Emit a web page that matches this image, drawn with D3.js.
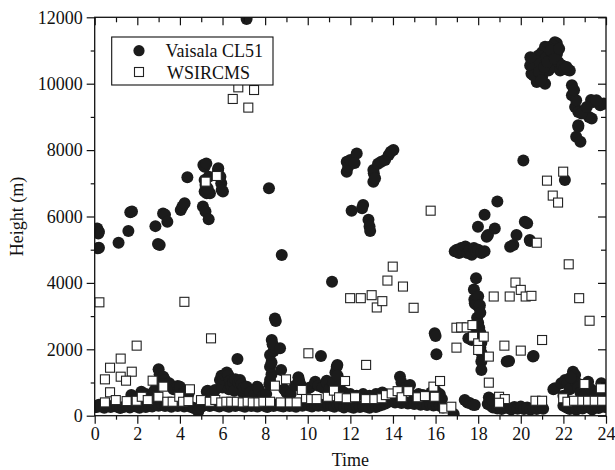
<!DOCTYPE html>
<html>
<head>
<meta charset="utf-8">
<script src="https://cdn.jsdelivr.net/npm/d3@7"></script>
<style>
  body { margin: 0; background: #fff; }
  text { font-family: "Liberation Serif", "Times New Roman", serif; fill: #111; }
</style>
</head>
<body>
<div id="chart-area"></div>
<script>
// tick values
var xMajor = [0, 2, 4, 6, 8, 10, 12, 14, 16, 18, 20, 22, 24];
var xMinor = [1, 3, 5, 7, 9, 11, 13, 15, 17, 19, 21, 23];
var yMajor = [0, 2000, 4000, 6000, 8000, 10000, 12000];
var yMinor = [1000, 3000, 5000, 7000, 9000, 11000];

// Vaisala CL51 [time, height]
var cl51Low = [
  [0.0,300],[0.1,260],[0.2,330],[0.3,280],[0.45,240],[0.6,300],[0.75,260],[0.9,320],[1.05,270],[1.2,230],
  [1.35,260],[1.5,300],[1.65,250],[1.8,330],[1.95,280],[2.1,240],[2.25,300],[2.4,260],[2.55,310],[2.7,280],
  [2.85,340],[3.0,300],[3.15,360],[3.3,290],[3.45,320],[3.6,270],[3.75,330],[3.9,290],[4.05,350],[4.2,280],
  [4.35,310],[4.5,270],[4.65,230],[4.86,130],[4.95,240],[5.1,300],[5.25,330],[5.4,290],[5.55,350],[5.7,310],
  [5.85,280],[6.0,340],[6.15,300],[6.3,270],[6.45,320],[6.6,290],[6.75,340],[6.9,300],[7.05,270],[7.2,330],
  [7.35,290],[7.5,310],[7.65,280],[7.8,330],[7.95,300],[8.1,260],[8.25,320],[8.4,290],[8.55,340],[8.7,300],
  [8.85,280],[9.0,330],[9.15,290],[9.3,310],[9.45,270],[9.6,330],[9.75,300],[9.9,350],[10.05,310],[10.2,280],
  [10.35,340],[10.5,300],[10.65,330],[10.8,290],[10.95,340],[11.1,300],[11.25,270],[11.4,320],[11.55,290],[11.7,250],
  [11.85,300],[12.0,270],[12.15,240],[12.3,290],[12.45,260],[12.6,300],[12.75,270],[12.9,240],[13.05,290],[13.2,260],
  [13.35,300],[13.5,330],[13.65,370],[13.8,420],[13.95,450],[14.1,400],[14.25,440],[14.4,380],[14.55,420],[14.7,370],
  [14.85,400],[15.0,350],[15.15,380],[15.3,330],[15.45,360],[15.6,320],[15.75,350],[15.9,310],[16.05,340],[16.2,300],
  [16.35,250],[16.85,50],
  [17.37,470],[17.5,400],[17.6,380],[17.75,330],[17.84,320],
  [18.45,350],[18.55,420],[18.6,300],[18.7,250],[18.8,350],[18.9,220],[19.0,300],[19.1,200],[19.25,280],[19.4,230],
  [19.55,190],[19.7,260],[19.85,210],[20.0,280],[20.15,200],[20.3,250],[20.45,180],[20.6,240],[20.75,200],[20.9,260],
  [21.05,210],[18.5,550],[18.65,480],
  [22.0,300],[22.15,250],[22.3,200],[22.45,300],[22.6,180],[22.75,260],[22.9,220],[23.05,300],[23.2,250],[23.35,190],
  [23.5,280],[23.65,230],[23.8,300],[23.95,260]
];
var cl51Mid = [
  [1.72,620],[2.19,720],[2.4,650],[2.6,600],[2.8,750],[2.9,900],[3.0,1400],[3.05,1250],[3.1,1100],[3.22,1175],
  [3.3,1075],[3.2,950],[3.5,975],[3.6,900],[3.7,800],[3.9,895],[4.0,875],[4.2,700],[4.4,650],
  [5.26,725],[5.3,750],[5.5,650],[5.65,775],[5.88,1075],[5.95,1200],[6.0,850],[6.05,1100],[6.1,1225],[6.2,1300],
  [6.27,1225],[6.3,800],[6.35,1050],[6.4,900],[6.5,1000],[6.55,750],[6.6,1100],[6.7,1710],[6.75,1000],[6.82,1075],
  [6.9,950],[6.95,700],[7.0,850],[7.14,875],[7.3,700],[7.5,650],[7.63,875],[7.7,800],[7.9,600],[8.05,650],
  [8.2,950],[8.23,1075],[8.3,1250],[8.23,1475],[8.3,1600],[8.23,1830],[8.4,1950],[8.45,2050],[8.31,2280],[8.35,2150],
  [8.46,2930],[8.5,2850],[8.7,2030],[8.75,1375],
  [8.9,800],[9.0,700],[9.2,650],[9.4,900],[9.56,1160],[9.6,1050],[9.7,900],[9.9,800],[10.1,850],[10.34,975],
  [10.35,1025],[10.5,900],[10.62,1800],[10.7,850],[10.89,1055],[10.9,975],[11.0,800],[11.2,1000],[11.3,1300],[11.36,1475],
  [11.39,1530],[11.4,1200],[11.5,900],[11.7,700],[12.0,650],[12.3,600],[12.6,650],[12.9,600],[13.2,650],[13.5,700],
  [14.2,650],[14.33,1175],[14.4,1000],[14.5,750],[14.6,850],[14.8,925],[15.0,600],[15.2,650],[15.4,620],[15.6,580],
  [15.8,700],[16.0,750],[16.2,650],[16.3,500],
  [15.96,2480],[16.0,2400],[16.04,1850],
  [17.54,2330],[17.7,2280],[17.75,2600],[17.8,3800],[17.82,3500],[17.84,3385],[17.9,3350],[17.9,4140],[17.95,2950],[18.0,2800],
  [18.0,3600],[18.05,3250],[18.05,2650],[18.08,3330],[18.1,3100],[18.1,2500],[18.1,2050],[18.15,2200],[18.15,1900],[18.2,1750],
  [18.15,1630],[18.15,1380],
  [19.34,1630],[19.45,1650],[20.57,1780],[20.6,1800],[21.53,795],[21.6,825],
  [21.9,975],[22.0,600],[22.08,1075],[22.2,1000],[22.3,800],[22.45,1325],[22.55,1225],[22.6,1000],[22.7,850],[22.8,700],
  [23.0,600],[23.16,1025],[23.3,800],[23.5,700],[23.78,975],[23.9,800],[22.35,1150],[23.6,650],[23.95,700]
];
var cl51High = [
  [0.12,5640],[0.2,5540],[0.17,5490],[0.2,5060],[0.15,5040],[1.12,5210],[1.58,5560],[1.67,6125],[1.75,6150],
  [2.85,5710],[2.97,5170],[3.05,5140],[3.21,6090],[3.3,6050],[3.41,5840],[4.04,6195],[4.12,6300],[4.22,6400],[4.35,7180],
  [5.08,6300],[5.2,6150],[5.35,5915],[5.1,7550],[5.16,7500],[5.24,7600],[5.16,7100],[5.16,6750],[5.26,6700],[5.41,6700],
  [5.2,6950],[5.3,6850],[5.35,7200],[5.8,7450],[5.79,7400],[5.94,7000],[6.02,6750],[5.96,6800],[5.9,7200],
  [7.13,11950],[8.18,6850],[8.78,4840],
  [11.14,4036],[11.83,7650],[11.83,7350],[11.9,7500],[12.0,7700],[12.3,7900],[12.2,7610],[12.06,6175],[12.6,6350],[12.55,6250],
  [12.85,5900],[12.9,5700],[12.93,5560],[13.08,7400],[13.1,7300],[13.08,7050],[13.16,7150],[13.3,7590],[13.45,7650],[13.63,7700],
  [13.8,7850],[14.02,8000],[13.9,7950],
  [16.9,4950],[17.0,5000],[17.1,4900],[17.2,5050],[17.3,4950],[17.4,5100],[17.5,4900],[17.6,5000],[17.7,4850],[17.8,5050],
  [17.9,4950],[18.0,5000],[18.15,4900],[18.3,4950],
  [18.9,6450],[18.3,6050],[17.99,5690],[18.78,5640],[18.46,5440],[18.4,5390],[20.19,5840],[20.3,5800],[19.8,5440],[19.65,5140],
  [19.5,5090],[20.42,5290],[20.44,5260],[20.12,7690],[22.07,7100],
  [21.69,11220],[21.6,11250],[21.5,11150],[21.3,11100],[21.14,11110],[21.0,10950],[20.83,10850],[20.7,10700],[20.44,10550],[20.5,10300],
  [20.6,10500],[20.9,10600],[21.2,10800],[21.4,10700],[21.5,10900],[20.75,10050],[21.14,10000],[21.0,10200],[21.3,10400],[21.5,10500],
  [21.77,10650],[21.85,10400],[21.7,10900],[22.23,10410],[22.3,10400],[22.4,9950],[22.4,9650],[22.55,9300],[22.7,9150],[23.0,9200],
  [23.3,9510],[23.4,9450],[23.7,9410],[23.73,9350],[23.9,9400],[23.2,9000],[23.33,8950],[22.7,8750],[22.6,8400],[22.8,8250],
  [22.7,8700],[22.6,9500],
  [20.45,10800],[20.6,10250],[20.85,10350],[20.95,10100],[21.1,10500],[21.25,10650],[21.4,11000],[21.6,10750],[21.8,11050],[21.95,10550],
  [22.05,10450],[22.15,10500],[22.85,9100],[23.1,9300],[23.55,9500],[22.5,9800]
];

// WSIRCMS [time, height]
var wsPoints = [
  [6.48,9540],[6.74,9890],[7.21,9280],[7.48,9810],[5.21,7050],[5.73,7220],[0.22,3415],[4.21,3430],[5.46,2330],[1.97,2110],
  [1.22,1720],[0.72,1445],[1.74,1325],[0.48,1095],[1.22,1175],[1.47,1055],[2.72,1055],[0.72,705],[3.22,875],[4.47,795],
  [0.48,400],[0.99,470],[1.5,440],[1.97,450],[2.21,570],[2.49,470],[2.99,570],[3.41,420],[3.66,420],[3.97,570],
  [4.15,420],[4.4,440],[4.99,470],[5.4,420],[5.66,475],[5.94,400],[6.18,420],[6.41,420],[6.67,420],[6.95,400],
  [7.18,420],[7.42,400],[7.69,400],[7.92,420],[8.23,420],[8.73,400],[9.17,400],[9.48,400],[9.92,525],[8.46,905],
  [8.98,1095],[9.72,775],[10.03,1880],
  [10.16,500],[10.42,500],[10.94,570],[11.23,755],[11.47,555],[11.75,1045],[11.83,525],[12.22,555],[12.72,500],[12.74,1530],
  [13.13,500],[13.47,525],[13.67,620],[13.94,670],[14.22,740],[14.41,555],[14.72,740],[15.16,555],[15.5,590],[15.9,875],
  [15.96,570],[16.21,1045],[16.4,220],[16.74,270],
  [11.99,3540],[12.49,3540],[13.0,3630],[13.24,3260],[13.5,3450],[13.74,4070],[13.99,4490],[14.47,3890],[14.97,3250],[15.77,6175],
  [16.98,2650],[17.2,2660],[17.46,2660],[17.73,2730],[17.76,2380],[18.0,2180],[18.26,2380],[18.0,1980],[18.5,1780],[16.98,2050],
  [18.5,995],[18.98,570],[19.25,500],[18.98,390],
  [18.73,3590],[19.48,3590],[19.75,4010],[20.0,3790],[20.23,3590],[20.5,3610],[20.75,5210],[19.23,2110],[20.0,1960],[21.0,2280],
  [21.23,7080],[21.5,6630],[21.75,6420],[21.99,7350],[22.25,4560],[22.74,3540],[23.23,2860],[20.69,450],[21.0,450],[21.99,525],
  [22.19,420],[22.5,450],[22.89,450],[23.16,450],[23.47,450],[23.82,450],[22.99,955],[23.76,825]
];

var legendNames = ["Vaisala CL51", "WSIRCMS"];

var W = 615, H = 470;
var plotL = 94.7, plotR = 606, plotT = 17.3, plotB = 415.7;

var svg = d3.select("#chart-area").append("svg")
            .attr("width", W)
            .attr("height", H);

var x = d3.scaleLinear().domain([0, 24]).range([plotL, plotR]);
var y = d3.scaleLinear().domain([0, 12000]).range([plotB, plotT]);

svg.append("clipPath").attr("id", "plot-clip")
   .append("rect")
     .attr("x", plotL).attr("y", plotT)
     .attr("width", plotR - plotL).attr("height", plotB - plotT);

var pts = svg.append("g").attr("clip-path", "url(#plot-clip)");
var cl51 = cl51Low.concat(cl51Mid, cl51High);

pts.selectAll("circle")
   .data(cl51)
   .enter()
   .append("circle")
     .attr("cx", (d) => x(d[0]))
     .attr("cy", (d) => y(d[1]))
     .attr("r", 6)
     .attr("fill", "#1b1b1b");

var s = 9;
pts.selectAll("rect.ws")
   .data(wsPoints)
   .enter()
   .append("rect")
     .attr("class", "ws")
     .attr("x", (d) => x(d[0]) - s / 2)
     .attr("y", (d) => y(d[1]) - s / 2)
     .attr("width", s)
     .attr("height", s)
     .attr("fill", "#fff")
     .attr("stroke", "#222")
     .attr("stroke-width", 1.1);

// axes
function styleAxis(g) {
  g.select(".domain").remove();
  g.selectAll("line").attr("stroke", "#111").attr("stroke-width", 1.2);
  g.selectAll("text").attr("font-size", "18px").attr("fill", "#111")
   .attr("font-family", "Liberation Serif, serif");
}

svg.append("g").attr("transform", "translate(0," + plotB + ")")
   .call(d3.axisBottom(x).tickValues(xMajor).tickSize(8).tickPadding(4).tickFormat(d3.format("d")))
   .call(styleAxis);
svg.append("g").attr("transform", "translate(0," + plotB + ")")
   .call(d3.axisBottom(x).tickValues(xMinor).tickSize(4).tickFormat(""))
   .call(styleAxis);
svg.append("g").attr("transform", "translate(0," + plotT + ")")
   .call(d3.axisTop(x).tickValues(xMajor).tickSize(-8).tickFormat(""))
   .call(styleAxis);
svg.append("g").attr("transform", "translate(0," + plotT + ")")
   .call(d3.axisTop(x).tickValues(xMinor).tickSize(-5).tickFormat(""))
   .call(styleAxis);

svg.append("g").attr("transform", "translate(" + plotL + ",0)")
   .call(d3.axisLeft(y).tickValues(yMajor).tickSize(8).tickPadding(4).tickFormat(d3.format("d")))
   .call(styleAxis);
svg.append("g").attr("transform", "translate(" + plotL + ",0)")
   .call(d3.axisLeft(y).tickValues(yMinor).tickSize(4).tickFormat(""))
   .call(styleAxis);
svg.append("g").attr("transform", "translate(" + plotR + ",0)")
   .call(d3.axisRight(y).tickValues(yMajor).tickSize(-8).tickFormat(""))
   .call(styleAxis);
svg.append("g").attr("transform", "translate(" + plotR + ",0)")
   .call(d3.axisRight(y).tickValues(yMinor).tickSize(-5).tickFormat(""))
   .call(styleAxis);

svg.append("rect")
   .attr("x", plotL).attr("y", plotT)
   .attr("width", plotR - plotL).attr("height", plotB - plotT)
   .attr("fill", "none").attr("stroke", "#111").attr("stroke-width", 1.3);

// axis titles
svg.append("text")
   .attr("x", (plotL + plotR) / 2).attr("y", 466)
   .attr("text-anchor", "middle").attr("font-size", "18px")
   .text("Time");
svg.append("text")
   .attr("transform", "translate(23," + ((plotT + plotB) / 2) + ") rotate(-90)")
   .attr("text-anchor", "middle").attr("font-size", "18px")
   .text("Height (m)");

// legend
var lg = svg.append("g");
lg.append("rect")
  .attr("x", 111.7).attr("y", 37)
  .attr("width", 161.3).attr("height", 48)
  .attr("fill", "#fff").attr("stroke", "#111").attr("stroke-width", 1.1);
lg.append("circle").attr("cx", 139).attr("cy", 50.7).attr("r", 5.6).attr("fill", "#1b1b1b");
lg.append("rect").attr("x", 139 - s / 2).attr("y", 72 - s / 2)
  .attr("width", s).attr("height", s)
  .attr("fill", "#fff").attr("stroke", "#222").attr("stroke-width", 1.1);
lg.selectAll("text.lg")
  .data(legendNames)
  .enter()
  .append("text")
    .attr("class", "lg")
    .attr("x", (d, i) => i === 0 ? 165.5 : 167)
    .attr("y", (d, i) => i === 0 ? 57 : 79)
    .attr("font-size", "18px")
    .text((d) => d);
</script>
</body>
</html>
